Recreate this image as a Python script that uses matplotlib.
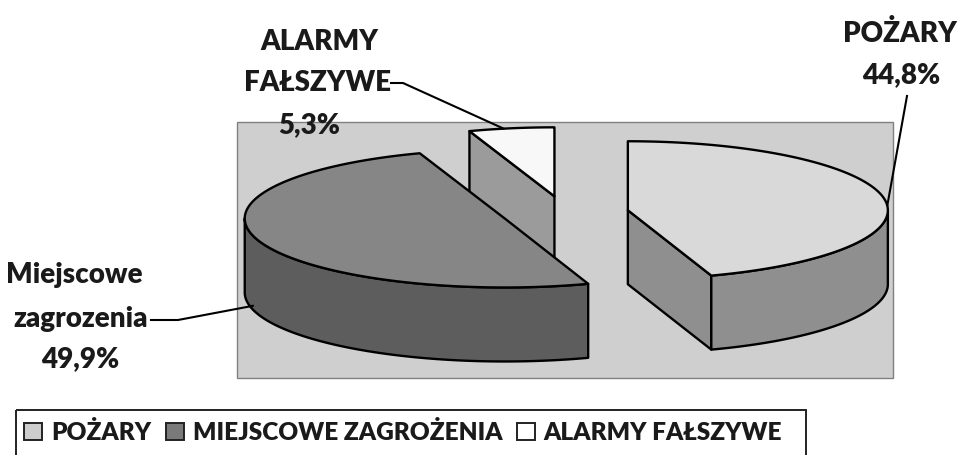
import numpy as np
import matplotlib.pyplot as plt
from matplotlib.patches import Polygon, Rectangle, Patch

# ---------------------------------------------------------------------------
# data
# ---------------------------------------------------------------------------
labels = ['POŻARY', 'MIEJSCOWE ZAGROŻENIA', 'ALARMY FAŁSZYWE']
values = [44.8, 49.9, 5.3]
pct_labels = ['44,8%', '49,9%', '5,3%']

top_colors = ['#d9d9d9', '#868686', '#f8f8f8']
side_colors = ['#8f8f8f', '#5d5d5d', '#9b9b9b']

# pie geometry (pixel units, figure is 962x455)
cx, cy = 565, 213
rx, ry = 260, 69
depth = 74
explode = 0.245

plt.rcParams['font.family'] = ['Lato', 'DejaVu Sans']

fig = plt.figure(figsize=(9.62, 4.55), dpi=100)
ax = fig.add_axes([0, 0, 1, 1])
ax.set_xlim(0, 962)
ax.set_ylim(455, 0)
ax.axis('off')

# plot area
ax.add_patch(Rectangle((237, 122), 656, 256, facecolor='#cfcfcf',
                       edgecolor='#808080', lw=1.0, zorder=0))


def pt(t, c, dz=0.0):
    return np.column_stack([c[0] + rx * np.sin(t), c[1] - ry * np.cos(t) + dz])


edges = np.cumsum([0] + values) / sum(values) * 2 * np.pi
mids = (edges[:-1] + edges[1:]) / 2
centers = [(cx + explode * rx * np.sin(m), cy - explode * ry * np.cos(m)) for m in mids]

lw = 1.7
order = np.argsort([c[1] for c in centers])   # back slices first
for i in order:
    t1, t2 = edges[i], edges[i + 1]
    c = centers[i]
    z = 2 + list(order).index(i) * 3
    # cut faces
    for t, nrm in ((t1, t1 - np.pi / 2), (t2, t2 + np.pi / 2)):
        if np.cos(nrm) < -1e-3:
            e_top = pt(np.array([t]), c)[0]
            quad = [c, e_top, e_top + [0, depth], (c[0], c[1] + depth)]
            ax.add_patch(Polygon(quad, closed=True, facecolor=side_colors[i],
                                 edgecolor='black', lw=lw, joinstyle='round', zorder=z))
    # outer wall (front half only)
    lo, hi = max(t1, np.pi / 2), min(t2, 3 * np.pi / 2)
    if hi > lo:
        ts = np.linspace(lo, hi, 120)
        wall = np.vstack([pt(ts, c), pt(ts[::-1], c, depth)])
        ax.add_patch(Polygon(wall, closed=True, facecolor=side_colors[i],
                             edgecolor='black', lw=lw, joinstyle='round', zorder=z + 1))
    # top face
    ts = np.linspace(t1, t2, 200)
    top = np.vstack([[c], pt(ts, c)])
    ax.add_patch(Polygon(top, closed=True, facecolor=top_colors[i],
                         edgecolor='black', lw=lw, joinstyle='round', zorder=z + 2))

# ---------------------------------------------------------------------------
# call-out labels
# ---------------------------------------------------------------------------
tkw = dict(fontsize=20, fontweight='heavy', color='#1a1a1a', ha='center',
           va='center', zorder=20)

# POŻARY
ax.text(900, 33, 'POŻARY', **tkw)
ax.text(901, 75, pct_labels[0], **tkw)
a0 = pt(np.array([mids[0]]), centers[0])[0]
ax.plot([907, a0[0] + 3], [96, a0[1] + 6], color='black', lw=1.5, zorder=20)

# Miejscowe zagrozenia
ax.text(74, 275, 'Miejscowe', **tkw)
ax.text(81, 319, 'zagrozenia', **tkw)
ax.text(80, 359, pct_labels[1], **tkw)
a1 = pt(np.array([mids[1] + 0.08]), centers[1], depth * 0.95)[0]
ax.plot([151, 178, a1[0]], [320, 320, a1[1]], color='black', lw=1.5, zorder=20)

# Alarmy falszywe
ax.text(319, 42, 'ALARMY', **tkw)
ax.text(318, 83, 'FAŁSZYWE', **tkw)
ax.text(309, 125, pct_labels[2], **tkw)
a2 = pt(np.array([mids[2] - 0.03]), centers[2])[0]
ax.plot([391, 403, a2[0]], [83, 83, a2[1]], color='black', lw=1.5, zorder=20)

# ---------------------------------------------------------------------------
# legend
# ---------------------------------------------------------------------------
ax.add_patch(Rectangle((16, 410), 790, 60, facecolor='none',
                       edgecolor='#222222', lw=1.4, zorder=1, clip_on=False))
leg_colors = ['#cdcdcd', '#7a7a7a', 'white']
handles = [Patch(facecolor=col, edgecolor='#222222', lw=1.4) for col in leg_colors]
ax.legend(handles, labels, ncol=3, loc='upper left', frameon=False,
          bbox_to_anchor=(24 / 962, 1 - 421 / 455), borderpad=0, borderaxespad=0,
          handlelength=0.75, handleheight=0.75, handletextpad=0.35,
          columnspacing=0.6, prop=dict(size=17.6, weight='heavy'),
          labelcolor='#1a1a1a')

fig.savefig('out.png', dpi=100)
